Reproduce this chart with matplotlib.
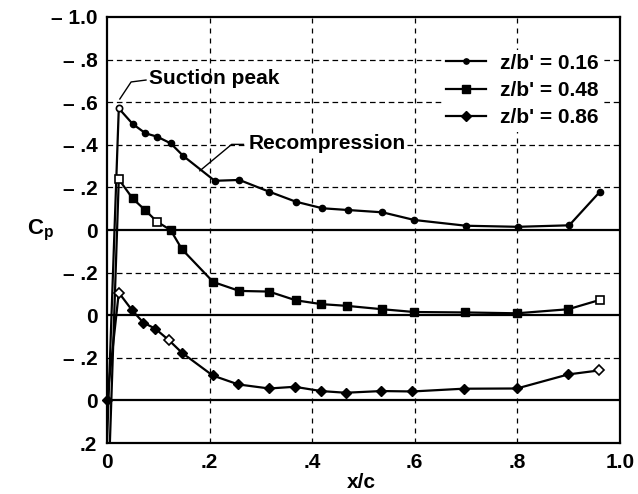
import numpy as np
import matplotlib
matplotlib.use('Agg')
import matplotlib.pyplot as plt
from matplotlib.lines import Line2D

plt.rcParams['font.family'] = ['Liberation Sans', 'DejaVu Sans']
plt.rcParams['font.weight'] = 'bold'
plt.rcParams['mathtext.fontset'] = 'custom'
plt.rcParams['mathtext.rm'] = 'Liberation Sans:bold'
plt.rcParams['mathtext.bf'] = 'Liberation Sans:bold'
plt.rcParams['mathtext.it'] = 'Liberation Sans:bold'

# chordwise pressure distributions at three spanwise stations
x_016 = [0.0, 0.023, 0.050, 0.075, 0.098, 0.124, 0.149, 0.210, 0.258, 0.316,
         0.368, 0.420, 0.469, 0.537, 0.599, 0.700, 0.801, 0.901, 0.961]
cp_016 = [1.0, -0.571, -0.498, -0.454, -0.438, -0.407, -0.347, -0.231, -0.235,
          -0.180, -0.133, -0.102, -0.094, -0.083, -0.047, -0.020, -0.015,
          -0.022, -0.180]

x_048 = [0.0, 0.023, 0.050, 0.074, 0.098, 0.124, 0.146, 0.207, 0.258, 0.316,
         0.368, 0.418, 0.467, 0.537, 0.599, 0.698, 0.799, 0.899, 0.961]
cp_048 = [1.0, -0.638, -0.548, -0.494, -0.438, -0.400, -0.310, -0.156, -0.114,
          -0.111, -0.070, -0.052, -0.044, -0.028, -0.015, -0.013, -0.009,
          -0.028, -0.072]

x_086 = [0.0, 0.023, 0.049, 0.071, 0.094, 0.121, 0.146, 0.206, 0.256, 0.316,
         0.366, 0.417, 0.465, 0.535, 0.595, 0.695, 0.799, 0.899, 0.960]
cp_086 = [0.0, -0.506, -0.423, -0.365, -0.337, -0.282, -0.224, -0.117, -0.075,
          -0.056, -0.064, -0.044, -0.036, -0.044, -0.042, -0.055, -0.056,
          -0.122, -0.141]

# which points are plotted with open symbols
open_016 = [1]
open_048 = [1, 4, 18]
open_086 = [1, 5, 18]

labels = ["z/b' = 0.16", "z/b' = 0.48", "z/b' = 0.86"]
offsets = [0.0, 0.4, 0.8]   # each curve is shifted down by 0.4 in Cp

ytick_pos = [-1.0, -0.8, -0.6, -0.4, -0.2, 0.0, 0.2, 0.4, 0.6, 0.8, 1.0]
ytick_lab = ['\u2013 1.0', '\u2013 .8', '\u2013 .6', '\u2013 .4', '\u2013 .2', '0',
             '\u2013 .2', '0', '\u2013 .2', '0', '.2']
xtick_pos = [0, 0.2, 0.4, 0.6, 0.8, 1.0]
xtick_lab = ['0', '.2', '.4', '.6', '.8', '1.0']

FS = 15

fig = plt.figure(figsize=(6.38, 4.94), dpi=100)
ax = fig.add_axes([0.1677, 0.1032, 0.8041, 0.8624])

ax.set_xlim(0, 1.0)
ax.set_ylim(1.0, -1.0)

# grid: dashed lines, solid zero lines for every curve
for y in [-0.8, -0.6, -0.4, -0.2, 0.2, 0.6]:
    ax.axhline(y, c='black', lw=0.9, ls=(0, (4.5, 3)), zorder=1)
for y in [0.0, 0.4, 0.8]:
    ax.axhline(y, c='black', lw=1.6, zorder=1)
for x in [0.2, 0.4, 0.6, 0.8]:
    ax.axvline(x, c='black', lw=0.9, ls=(0, (4, 4)), zorder=1)

series = [(x_016, cp_016, open_016, 'o', 4.5),
          (x_048, cp_048, open_048, 's', 6.0),
          (x_086, cp_086, open_086, 'D', 5.5)]

handles = []
for (xs, cps, opens, mk, ms), off, lab in zip(series, offsets, labels):
    xs = np.array(xs)
    ys = np.array(cps) + off
    ax.plot(xs, ys, '-', c='black', lw=1.6, zorder=3)
    # symbols inside the frame are drawn unclipped so the one on the
    # leading edge shows in full
    inside = [i for i in range(len(xs)) if -1.0 < ys[i] < 1.0]
    filled = [i for i in inside if i not in opens]
    ax.plot(xs[filled], ys[filled], ls='none', marker=mk, ms=ms,
            mfc='black', mec='black', zorder=4, clip_on=False)
    ax.plot(xs[opens], ys[opens], ls='none', marker=mk, ms=ms,
            mfc='white', mec='black', mew=1.2, zorder=5, clip_on=False)
    handles.append(Line2D([], [], c='black', lw=1.6, marker=mk,
                          ms=ms * 0.85, mfc='black', label=lab))

leg = ax.legend(handles=handles, loc='upper left', bbox_to_anchor=(0.632, 0.948),
                frameon=True, fancybox=False, framealpha=1.0, edgecolor='none',
                facecolor='white', fontsize=FS, handlelength=1.95,
                handletextpad=0.65, labelspacing=0.4, borderpad=0.2)
leg.set_zorder(6)

# annotations with leader lines
ax.plot([0.025, 0.047, 0.076], [-0.615, -0.695, -0.704], c='black', lw=1.0,
        zorder=3)
ax.text(0.082, -0.712, 'Suction peak', fontsize=FS, fontweight='bold',
        va='center', ha='left', zorder=6)
ax.plot([0.181, 0.243, 0.266], [-0.278, -0.402, -0.402], c='black', lw=1.0,
        zorder=3)
ax.text(0.277, -0.405, 'Recompression', fontsize=FS, fontweight='bold',
        va='center', ha='left', zorder=6,
        bbox=dict(facecolor='white', edgecolor='none', pad=0.5))

ax.set_yticks(ytick_pos)
ax.set_yticklabels(ytick_lab)
ax.set_xticks(xtick_pos)
ax.set_xticklabels(xtick_lab)
ax.tick_params(length=0, labelsize=FS, pad=7)
for lab in ax.get_xticklabels() + ax.get_yticklabels():
    lab.set_fontweight('bold')

for sp in ax.spines.values():
    sp.set_linewidth(1.6)
    sp.set_zorder(7)

ax.text(0.495, -0.092, 'x/c', transform=ax.transAxes, fontsize=FS,
        fontweight='bold', ha='center', va='center')
ax.text(-0.13, 0.5, r'$\mathbf{C_p}$', transform=ax.transAxes, fontsize=16,
        ha='center', va='center')

plt.savefig('out.png', dpi=100)
